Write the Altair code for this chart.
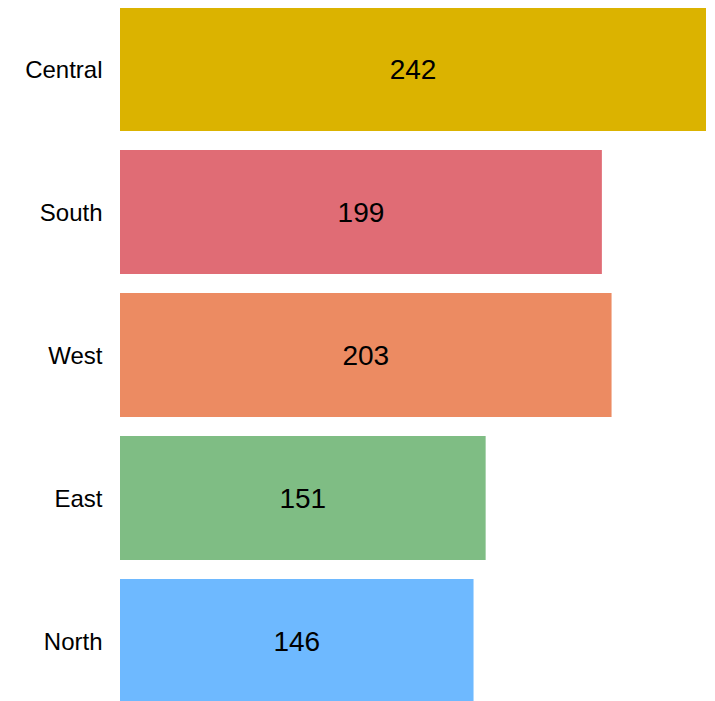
import altair as alt
import pandas as pd

regions = ["Central", "South", "West", "East", "North"]
values = [242, 199, 203, 151, 146]
colors = ["#DBB300", "#E06C75", "#EC8B62", "#7FBD84", "#6EB9FF"]

df = pd.DataFrame({"region": regions, "value": values})

y_enc = alt.Y("region:N", sort=regions,
              scale=alt.Scale(paddingInner=0.133, paddingOuter=0),
              axis=alt.Axis(title=None, domain=False, ticks=False, labelFontSize=24,
                            labelFont="Liberation Sans", labelColor="#000000",
                            labelPadding=18, labelOffset=2, grid=False))

bars = alt.Chart(df).mark_bar().encode(
    y=y_enc,
    x=alt.X("value:Q", scale=alt.Scale(domain=[0, 242], nice=False),
            axis=None),
    color=alt.Color("region:N", scale=alt.Scale(domain=regions, range=colors), legend=None),
)

text = alt.Chart(df).transform_calculate(half="datum.value / 2").mark_text(
    fontSize=28, font="Liberation Sans", color="#000000", baseline="middle", align="center", dy=2
).encode(
    y=alt.Y("region:N", sort=regions),
    x=alt.X("half:Q"),
    text=alt.Text("value:Q"),
)

chart = alt.layer(bars, text).properties(
    width=586, height=696, padding={"left": 16, "top": -1, "right": 0, "bottom": 0}
).configure_view(stroke=None)

chart.save("out.html", embed_options={"renderer": "svg", "actions": False})
